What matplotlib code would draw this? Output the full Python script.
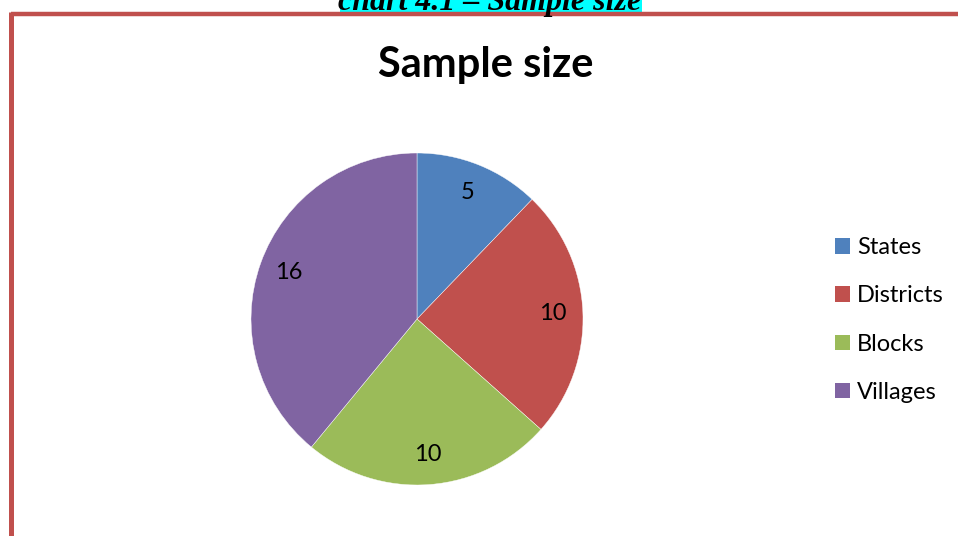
import numpy as np
import matplotlib.pyplot as plt
from matplotlib.patches import Rectangle, Patch
from matplotlib.lines import Line2D

categories = ["States", "Districts", "Blocks", "Villages"]
counts = [5, 10, 10, 16]
colors = ["#4F81BD", "#C0504D", "#9BBB59", "#8064A2"]

W, H = 958, 536
fig = plt.figure(figsize=(W / 100, H / 100), dpi=100)
fig.patch.set_facecolor("white")

# cut-off caption above the chart frame
fig.patches.append(Rectangle((340 / W, 1 - 12 / H), 302 / W, 12 / H,
                             transform=fig.transFigure, facecolor="#00FFFF",
                             edgecolor="none", zorder=0))
fig.text(490 / W, 1 - 10 / H, "chart 4.1 \u2013 Sample size", ha="center", va="baseline",
         fontsize=23, family="Liberation Serif", weight="bold", style="italic")

# red chart frame (top and left)
fig.add_artist(Line2D([11 / W, 1], [1 - 14 / H, 1 - 14 / H], color="#C0504D",
                      lw=3.2, transform=fig.transFigure, solid_capstyle="butt"))
fig.add_artist(Line2D([11 / W, 11 / W], [0, 1 - 12 / H], color="#C0504D",
                      lw=3.6, transform=fig.transFigure, solid_capstyle="butt"))

fig.text(486 / W, 1 - 77 / H, "Sample size", ha="center", va="baseline",
         fontsize=30, family="Lato", weight="bold")

cx, cy, r = 417, 319, 166
ax = fig.add_axes([(cx - r) / W, 1 - (cy + r) / H, 2 * r / W, 2 * r / H])
total = sum(counts)
wedges, texts, autotexts = ax.pie(
    counts, colors=colors, startangle=90, counterclock=False,
    autopct=lambda p: f"{round(p * total / 100)}", pctdistance=0.82,
    wedgeprops=dict(linewidth=0.3, edgecolor="white"),
    textprops=dict(fontsize=17, family="Lato"))
ax.set_xlim(-1, 1)
ax.set_ylim(-1, 1)
ax.set_aspect("equal")
ax.axis("off")

handles = [Patch(facecolor=c, edgecolor="none") for c in colors]
fig.legend(handles, categories, loc="center left",
           bbox_to_anchor=(835 / W, 1 - 320 / H), frameon=False,
           borderaxespad=0, borderpad=0, handlelength=0.63, handleheight=0.63,
           handletextpad=0.3, labelspacing=1.15,
           prop=dict(family="Lato", size=17))

fig.savefig("out.png", dpi=100)
